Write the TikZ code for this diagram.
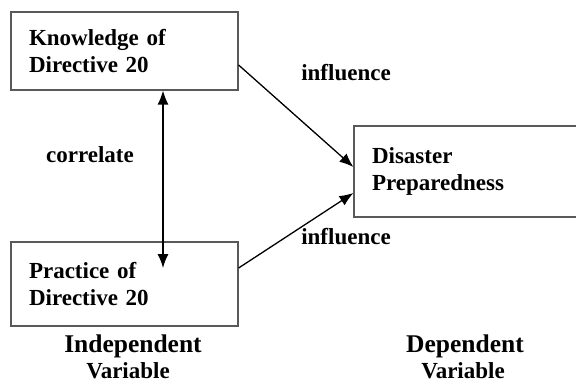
\documentclass[tikz,border=0pt]{standalone}
\usepackage{fontspec}
\setmainfont{Liberation Serif}
\usetikzlibrary{arrows.meta}
\newcommand{\boxfont}{\fontsize{23}{27.5}\selectfont\bfseries}
\begin{document}
\begin{tikzpicture}[x=1pt, y=-1pt,
  varbox/.style={draw=black!65, line width=1.2pt, rectangle, inner xsep=18pt,
    align=left, font=\boxfont},
  lbl/.style={font=\boxfont, inner sep=0pt},
  head/.style={font=\fontsize{25.5}{30}\selectfont\bfseries, inner sep=0pt},
  link/.style={line width=1.3pt, -{Latex[length=14pt,width=11pt]}}]
\useasboundingbox (0,0) rectangle (576,383);
\node[varbox, minimum width=227pt, minimum height=78pt, text width=191pt] (know) at (124.5,51){Knowledge of\\Directive 20};
\node[varbox, minimum width=227pt, minimum height=84pt, text width=191pt] (prac) at (124.5,284){Practice of\\Directive 20\\[4pt]};
\node[varbox, minimum width=246pt, minimum height=91pt, text width=210pt] (prep) at (477,171.5){Disaster\\Preparedness\\[6pt]};
\coordinate (tip) at (163,268);
\draw[link, {Latex[length=14pt,width=11pt]}-{Latex[length=14pt,width=11pt]}](know.south -| tip) -- (tip);
\draw[link]([yshift=-14pt]know.east) -- ([yshift=4.5pt]prep.west);
\draw[link]([yshift=16pt]prac.east) -- ([yshift=-21.5pt]prep.west);
\node[lbl] (corr) at (90,155){correlate};
\node[lbl] (infl1) at (346,73){influence};
\node[lbl] (infl2) at (346,237){influence};
\node[head] (indep) at (133,346){Independent};
\node[lbl] (indvar) at (128,371){Variable};
\node[head] (dep) at (465,346){Dependent};
\node[lbl] (depvar) at (463,371){Variable};
\end{tikzpicture}
\end{document}
